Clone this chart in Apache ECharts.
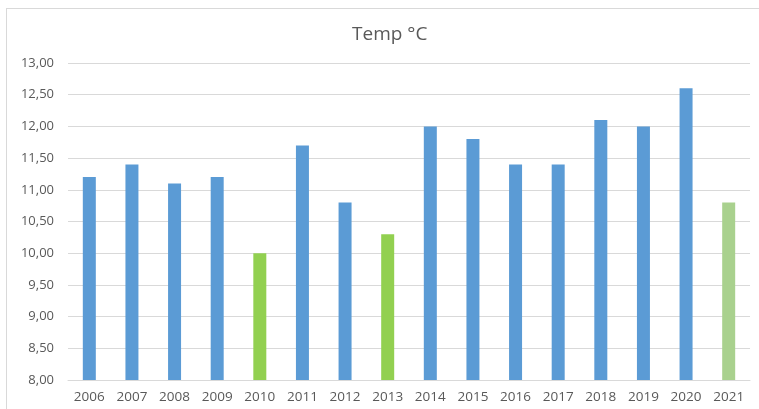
<!DOCTYPE html>
<html>
<head>
<meta charset="utf-8">
<script src="https://cdn.jsdelivr.net/npm/echarts@6/dist/echarts.min.js"></script>
<style>
  html, body { margin: 0; padding: 0; background: #fff; }
  #frame {
    position: absolute; left: 6px; top: 8px; width: 753px; height: 401px;
    border-top: 1px solid #d9d9d9; border-left: 1px solid #d9d9d9;
    box-sizing: border-box;
  }
  #chart { position: absolute; left: 0; top: 0; width: 759px; height: 409px; }
</style>
</head>
<body>
<div id="frame"></div>
<div id="chart"></div>
<script>
const years = ['2006', '2007', '2008', '2009', '2010', '2011', '2012', '2013',
  '2014', '2015', '2016', '2017', '2018', '2019', '2020', '2021']
const temps = [11.2, 11.4, 11.1, 11.2, 10.0, 11.7, 10.8, 10.3,
  12.0, 11.8, 11.4, 11.4, 12.1, 12.0, 12.6, 10.8]
// highlighted years (cold years green, last year lighter green)
const barColors = ['#5b9bd5', '#5b9bd5', '#5b9bd5', '#5b9bd5', '#92d050', '#5b9bd5',
  '#5b9bd5', '#92d050', '#5b9bd5', '#5b9bd5', '#5b9bd5', '#5b9bd5',
  '#5b9bd5', '#5b9bd5', '#5b9bd5', '#a9d18e']

const chart = echarts.init(document.getElementById('chart'))

chart.setOption({
  backgroundColor: 'transparent',
  animation: false,
  textStyle: { fontFamily: 'Open Sans, Liberation Sans, sans-serif' },
  title: {
    text: 'Temp °C',
    left: 347,
    top: 20,
    textStyle: { color: '#595959', fontSize: 19, fontWeight: 'normal' },
  },
  grid: { left: 68, right: 9, top: 63, bottom: 29 },
  xAxis: {
    type: 'category',
    data: years,
    axisTick: { show: false },
    axisLine: { lineStyle: { color: '#d9d9d9' } },
    axisLabel: { color: '#595959', fontSize: 13.5, margin: 10 },
  },
  yAxis: {
    type: 'value',
    min: 8,
    max: 13,
    interval: 0.5,
    axisLine: { show: false },
    axisTick: { show: false },
    splitLine: { lineStyle: { color: '#d9d9d9' } },
    axisLabel: {
      color: '#595959',
      fontSize: 13,
      margin: 14,
      formatter: (v) => v.toFixed(2).replace('.', ','),
    },
  },
  series: [
    {
      type: 'bar',
      barWidth: 13,
      data: temps.map((v, i) => ({
        value: v,
        itemStyle: { color: barColors[i] },
      })),
    },
  ],
})
</script>
</body>
</html>
